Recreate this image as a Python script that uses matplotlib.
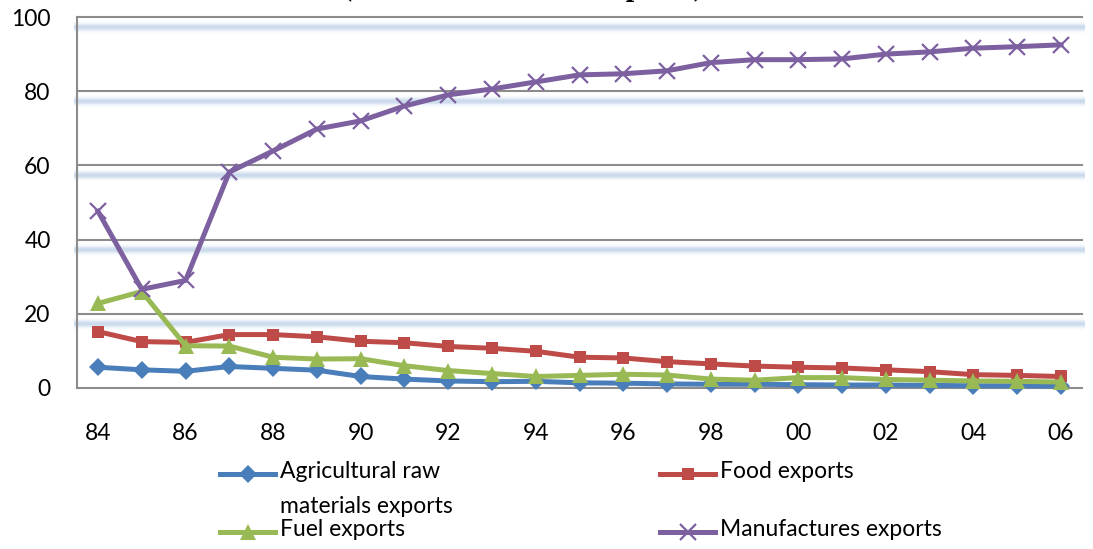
import matplotlib
matplotlib.use("Agg")
import matplotlib.pyplot as plt
from matplotlib.lines import Line2D
import numpy as np

years = ["84", "85", "86", "87", "88", "89", "90", "91", "92", "93", "94", "95",
         "96", "97", "98", "99", "00", "01", "02", "03", "04", "05", "06"]
tick_labels = ["84", "86", "88", "90", "92", "94", "96", "98", "00", "02", "04", "06"]

agri = [5.6, 4.9, 4.5, 5.8, 5.3, 4.8, 3.1, 2.4, 1.9, 1.7, 1.8, 1.4,
        1.3, 1.1, 1.0, 1.0, 0.9, 0.8, 0.8, 0.7, 0.6, 0.6, 0.5]
food = [15.2, 12.5, 12.3, 14.4, 14.4, 13.8, 12.6, 12.2, 11.2, 10.7, 9.9, 8.3,
        8.1, 7.1, 6.5, 5.9, 5.6, 5.4, 4.9, 4.4, 3.6, 3.4, 3.1]
fuel = [22.8, 26.0, 11.4, 11.3, 8.3, 7.8, 7.9, 6.0, 4.7, 3.9, 3.1, 3.4,
        3.7, 3.5, 2.4, 2.1, 2.8, 2.8, 2.3, 2.1, 1.9, 1.8, 1.6]
manuf = [47.6, 26.6, 29.0, 58.2, 63.9, 69.8, 72.0, 76.0, 79.0, 80.6, 82.5, 84.4,
         84.7, 85.5, 87.7, 88.5, 88.5, 88.7, 90.0, 90.6, 91.6, 92.0, 92.5]

series_labels = ["Agricultural raw\nmaterials exports", "Food exports",
                 "Fuel exports", "Manufactures exports"]
title = "(% of merchandise exports)"

colors = ["#4a7ebb", "#be4b48", "#98b954", "#7d60a0"]
markers = ["D", "s", "^", "x"]
msizes = [9, 9, 11, 12]

plt.rcParams['font.family'] = ['Lato', 'DejaVu Sans']

W, H = 1093, 549
fig = plt.figure(figsize=(W / 100, H / 100), dpi=100)
ax = fig.add_axes([77 / W, 1 - 388 / H, (1082 - 77) / W, (388 - 17) / H])

x = np.arange(len(years))
ax.set_xlim(-0.48, len(years) - 1 + 0.48)
ax.set_ylim(0, 100)

# gridlines with soft blue glow underneath (opaque gradient bands)
px_per_unit = (388 - 17) / 100.0
peak = np.array([0.79, 0.85, 0.92])
white = np.array([1.0, 1.0, 1.0])
offs = np.arange(2.0, 19.0, 0.5)
for g in [20, 40, 60, 80, 100]:
    for off in offs:
        w = np.exp(-((off + 0.25 - 10.0) / 3.4) ** 2)
        col = white + (peak - white) * w
        ax.axhspan(g - (off + 0.5) / px_per_unit, g - off / px_per_unit,
                   xmin=-0.003, xmax=1.003, color=col, lw=0, zorder=1,
                   clip_on=False)
    ax.axhline(g, color="#8c8c8c", lw=1.5, zorder=2, clip_on=False)

for vals, c, m, ms in zip([agri, food, fuel, manuf], colors, markers, msizes):
    kw = dict(color=c, lw=3.6, marker=m, markersize=ms, zorder=3, clip_on=False)
    if m == "x":
        kw.update(markeredgewidth=1.6)
    else:
        kw.update(markeredgewidth=0)
    ax.plot(x, vals, **kw)

for s in ["top", "right"]:
    ax.spines[s].set_visible(False)
for s in ["left", "bottom"]:
    ax.spines[s].set_color("#8c8c8c")
    ax.spines[s].set_linewidth(1.5)
    ax.spines[s].set_zorder(2.5)

ax.set_xticks(x[::2])
ax.set_xticklabels(tick_labels)
ax.set_yticks([0, 20, 40, 60, 80, 100])
ax.tick_params(axis="both", length=0, labelsize=16.5, colors="black")
ax.tick_params(axis="x", pad=25)
ax.tick_params(axis="y", pad=19)

# clipped title at top
fig.text(523 / W, 1 + 4.5 / H, title, ha="center", va="baseline",
         fontsize=22, fontweight="bold", family="Liberation Serif")

# manual legend
leg_pos = [(220, 474), (660, 474), (220, 532), (660, 532)]
for (lx, ly), lab, c, m, ms in zip(leg_pos, series_labels, colors, markers, msizes):
    xs = [lx / W, (lx + 55) / W]
    ys = [1 - ly / H] * 2
    ln = Line2D(xs, ys, transform=fig.transFigure, color=c, lw=3.6)
    fig.add_artist(ln)
    mk = Line2D([(lx + 27.5) / W], [1 - ly / H], transform=fig.transFigure,
                color=c, marker=m, markersize=ms,
                markeredgewidth=(1.6 if m == "x" else 0), lw=0)
    fig.add_artist(mk)
    fig.text((lx + 60) / W, 1 - (ly - 13) / H, lab, ha="left", va="top",
             fontsize=16.5, linespacing=1.8)

fig.savefig("out.png", dpi=100)
